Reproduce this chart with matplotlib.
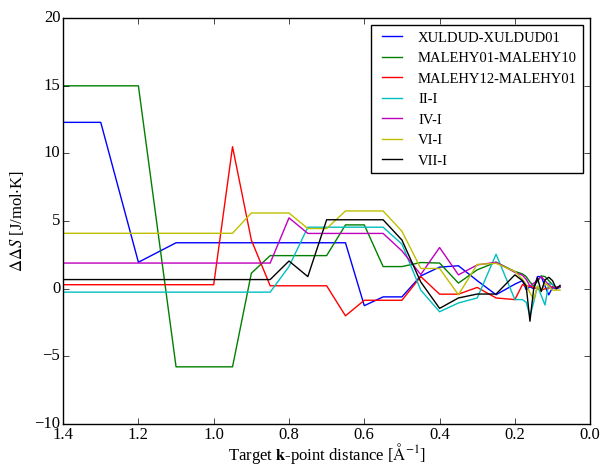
import matplotlib
matplotlib.use("Agg")
import matplotlib.pyplot as plt

# distancias objetivo de puntos k (eje x invertido)
distancias = [1.4, 1.3, 1.2, 1.1, 1.0, 0.95, 0.9, 0.85, 0.8, 0.75, 0.7, 0.65, 0.6, 0.55,
              0.5, 0.45, 0.4, 0.35, 0.3, 0.25, 0.2, 0.18, 0.17, 0.16, 0.15, 0.14, 0.13,
              0.12, 0.11, 0.10, 0.09, 0.08]

nombres = ["XULDUD-XULDUD01", "MALEHY01-MALEHY10", "MALEHY12-MALEHY01",
           "II-I", "IV-I", "VI-I", "VII-I"]
colores = ["b", "g", "r", "c", "m", "y", "k"]

xuldud = [12.3, 12.3, 1.96, 3.4, 3.4, 3.4, 3.4, 3.4, 3.4, 3.4, 3.4, 3.4, -1.25, -0.6,
          -0.6, 0.95, 1.6, 1.7, 0.6, -0.44, 0.34, 0.6, -0.07, 0.15, 0.0, 0.9, 0.9,
          0.2, -0.45, 0.1, 0.0, 0.1]
malehy01 = [15.0, 15.0, 15.0, -5.77, -5.77, -5.77, 1.15, 2.45, 2.45, 2.45, 2.45, 4.72,
            4.72, 1.64, 1.64, 1.94, 1.9, 0.42, 1.4, 1.96, 1.28, 1.1, 0.9, 0.5, 0.2,
            0.55, 0.95, 0.9, 0.6, 0.3, 0.1, 0.15]
malehy12 = [0.3, 0.3, 0.3, 0.3, 0.3, 10.5, 3.6, 0.22, 0.22, 0.22, 0.22, -2.0, -0.85,
            -0.85, -0.85, 0.9, -0.4, -0.4, 0.1, -0.68, -0.8, 0.3, 0.2, 0.2, 0.1, 0.0,
            -0.1, 0.0, 0.05, 0.15, 0.1, 0.15]
ii_i = [-0.25, -0.25, -0.25, -0.25, -0.25, -0.25, -0.25, -0.25, 1.64, 4.55, 4.55, 4.55,
        4.55, 4.55, 3.3, -0.1, -1.7, -1.05, -0.68, 2.55, -0.8, -0.8, -1.0, -2.0, -1.0,
        0.2, -0.5, -1.2, 0.4, 0.3, 0.05, 0.15]
iv_i = [1.9, 1.9, 1.9, 1.9, 1.9, 1.9, 1.9, 1.9, 5.24, 4.09, 4.09, 4.09, 4.09, 4.09, 2.8,
        1.05, 3.05, 1.03, 1.76, 1.96, 1.22, 1.0, 0.7, 0.2, 0.4, 0.65, 0.9, 0.6, 0.3,
        0.05, 0.1, 0.15]
vi_i = [4.1, 4.1, 4.1, 4.1, 4.1, 4.1, 5.6, 5.6, 5.6, 4.45, 4.45, 5.75, 5.75, 5.75, 4.25,
        1.5, 1.5, -0.44, 1.8, 1.88, 1.28, 0.7, 0.3, -0.3, -0.8, 0.2, -0.2, 0.4, 0.2,
        -0.1, -0.1, -0.1]
vii_i = [0.68, 0.68, 0.68, 0.68, 0.68, 0.68, 0.68, 0.68, 2.05, 0.9, 5.1, 5.1, 5.1, 5.1,
         3.6, 0.5, -1.45, -0.68, -0.39, -0.39, 1.03, 0.6, 0.2, -2.4, 0.0, 0.8, -0.2,
         0.66, 0.85, 0.6, 0.0, 0.25]

series = [xuldud, malehy01, malehy12, ii_i, iv_i, vi_i, vii_i]

plt.style.use("classic")
plt.rcParams["font.family"] = "serif"
plt.rcParams["font.serif"] = ["Liberation Serif", "DejaVu Serif"]
plt.rcParams["mathtext.fontset"] = "stix"
plt.rcParams["font.size"] = 12

fig, ax = plt.subplots(figsize=(6.01, 4.66), dpi=100)
fig.subplots_adjust(left=0.105, right=0.982, bottom=0.09, top=0.961)

for valores, nombre, color in zip(series, nombres, colores):
    ax.plot(distancias, valores, color=color, label=nombre, linewidth=1)

ax.set_xlim(1.4, 0.0)
ax.set_ylim(-10, 20)
ax.tick_params(axis="both", pad=2)
ax.set_xlabel(r"Target $\mathbf{k}$-point distance [$\mathrm{\AA}^{-1}$]", labelpad=-1)
ax.set_ylabel(r"$\Delta\Delta S$ [J/mol$\cdot$K]", labelpad=6)
ax.legend(loc="upper right", fontsize=10.5)

fig.savefig("out.png", dpi=100)
